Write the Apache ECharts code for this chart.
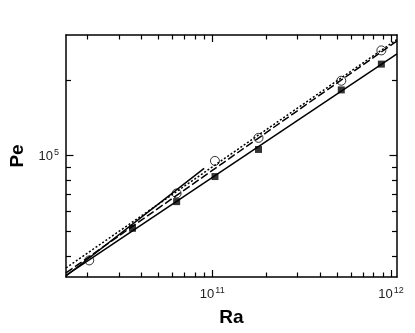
<!DOCTYPE html>
<html>
<head>
<meta charset="utf-8">
<script src="https://cdn.jsdelivr.net/npm/echarts@6/dist/echarts.min.js"></script>
<style>
html,body{margin:0;padding:0;background:#fff;}
#chart{width:415px;height:333px;}
</style>
</head>
<body>
<div id="chart"></div>
<script>
// Axis ranges and tick values
const xRange = [1.52e10, 1.08e12];
const yRange = [3.3e4, 3.01e5];
const xMajorTicks = [1e11, 1e12];
const xMinorTicks = [2e10, 3e10, 4e10, 5e10, 6e10, 7e10, 8e10, 9e10, 2e11, 3e11, 4e11, 5e11, 6e11, 7e11, 8e11, 9e11];
const yMajorTicks = [1e5];
const yMinorTicks = [4e4, 5e4, 6e4, 7e4, 8e4, 9e4, 2e5];

// Data points (Ra, Pe)
const circleRa = [2.05e10, 6.32e10, 1.035e11, 1.814e11, 5.27e11, 8.83e11];
const circlePe = [3.84e4, 7.08e4, 9.53e4, 1.176e5, 1.982e5, 2.615e5];
const squareRa = [3.58e10, 6.32e10, 1.036e11, 1.814e11, 5.27e11, 8.83e11];
const squarePe = [5.15e4, 6.57e4, 8.26e4, 1.058e5, 1.823e5, 2.307e5];

// Fit lines (end points)
const solidLowRa = [1.52e10, 1.08e12];
const solidLowPe = [3.353e4, 2.532e5];
const solidUpRa = [1.52e10, 9.0e10];
const solidUpPe = [3.331e4, 8.9e4];
const dashedRa = [1.52e10, 1.08e12];
const dashedPe = [3.424e4, 2.85e5];
const dottedRa = [1.52e10, 1.08e12];
const dottedPe = [3.585e4, 2.891e5];

const zip = (a, b) => a.map((v, i) => [v, b[i]]);
const FONT = 'Liberation Sans';
const supFormatter = v => '{b|10}{s|' + Math.round(Math.log10(v)) + '}';
const labelRich = {
  b: {fontSize: 13, fontFamily: FONT, color: '#222', lineHeight: 15, verticalAlign: 'bottom'},
  s: {fontSize: 9, fontFamily: FONT, color: '#222', lineHeight: 15, verticalAlign: 'top', padding: [0, 0, 0, 1]}
};
const axisLineStyle = {show: true, lineStyle: {color: '#000', width: 1.5}};

function mkX(position, major, showLine, withLabel, withName) {
  const ax = {
    type: 'log', logBase: 10, min: xRange[0], max: xRange[1], position: position,
    axisLine: showLine ? axisLineStyle : {show: false},
    axisTick: {show: true, inside: true, length: major ? 7 : 4.5,
      lineStyle: {color: '#000', width: 1.2},
      customValues: major ? xMajorTicks : xMinorTicks},
    axisLabel: withLabel ? {show: true, customValues: xMajorTicks, margin: 9,
      formatter: supFormatter, rich: labelRich} : {show: false},
    splitLine: {show: false}, minorTick: {show: false}, minorSplitLine: {show: false}
  };
  if (withName) {
    ax.name = 'Ra';
    ax.nameLocation = 'middle';
    ax.nameGap = 31;
    ax.nameTextStyle = {fontFamily: FONT, fontWeight: 'bold', fontSize: 19, color: '#000'};
  }
  return ax;
}
function mkY(position, major, showLine, withLabel, withName) {
  const ax = {
    type: 'log', logBase: 10, min: yRange[0], max: yRange[1], position: position,
    axisLine: showLine ? axisLineStyle : {show: false},
    axisTick: {show: true, inside: true, length: major ? 7.5 : 5,
      lineStyle: {color: '#000', width: 1.2},
      customValues: major ? yMajorTicks : yMinorTicks},
    axisLabel: withLabel ? {show: true, customValues: yMajorTicks, margin: 7,
      formatter: supFormatter, rich: labelRich} : {show: false},
    splitLine: {show: false}, minorTick: {show: false}, minorSplitLine: {show: false}
  };
  if (withName) {
    ax.name = 'Pe';
    ax.nameLocation = 'middle';
    ax.nameGap = 39;
    ax.nameTextStyle = {fontFamily: FONT, fontWeight: 'bold', fontSize: 19, color: '#000'};
  }
  return ax;
}

const chart = echarts.init(document.getElementById('chart'), null, {renderer: 'canvas'});
const lineSeries = (name, ra, pe, type) => ({
  name: name, type: 'line', xAxisIndex: 0, yAxisIndex: 0,
  data: zip(ra, pe), showSymbol: false, symbol: 'none', silent: true,
  lineStyle: {color: '#000', width: 1.5, type: type}, z: 2
});
chart.setOption({
  animation: false,
  backgroundColor: '#fff',
  textStyle: {fontFamily: FONT},
  grid: {left: 61, right: 18, top: 35, bottom: 56, containLabel: false},
  xAxis: [mkX('bottom', true, true, true, true), mkX('bottom', false, false, false, false),
          mkX('top', true, true, false, false), mkX('top', false, false, false, false)],
  yAxis: [mkY('left', true, true, true, true), mkY('left', false, false, false, false),
          mkY('right', true, true, false, false), mkY('right', false, false, false, false)],
  series: [
    lineSeries('solidLow', solidLowRa, solidLowPe, 'solid'),
    lineSeries('solidUp', solidUpRa, solidUpPe, 'solid'),
    lineSeries('dashed', dashedRa, dashedPe, [8, 3]),
    lineSeries('dotted', dottedRa, dottedPe, [2, 2]),
    {name: 'circles', type: 'scatter', xAxisIndex: 0, yAxisIndex: 0,
     data: zip(circleRa, circlePe), symbol: 'circle', symbolSize: 9,
     itemStyle: {color: 'rgba(255,255,255,0)', borderColor: '#000', borderWidth: 1}, z: 3},
    {name: 'squares', type: 'scatter', xAxisIndex: 0, yAxisIndex: 0,
     data: zip(squareRa, squarePe), symbol: 'rect', symbolSize: 7,
     itemStyle: {color: '#000'}, z: 3}
  ]
});
</script>
</body>
</html>
